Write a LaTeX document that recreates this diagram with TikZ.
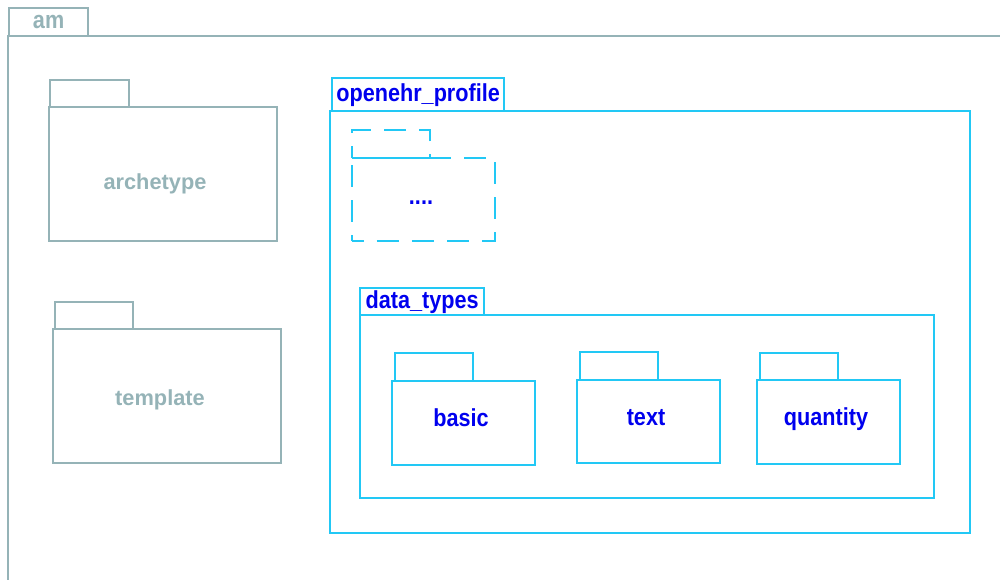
\documentclass[tikz,border=0pt]{standalone}
\usepackage{fontspec}
\newfontfamily\pkgfont{Liberation Sans}[FakeStretch=0.88]
\newfontfamily\namefont{Liberation Sans}
\definecolor{amgray}{HTML}{95B3B7}
\definecolor{pkgcyan}{HTML}{22C8F5}
\definecolor{pkgtext}{HTML}{0000EE}

\tikzstyle{pkg} = [rectangle, anchor=north west, inner sep=0pt, line width=1.3pt, font=\pkgfont\bfseries\fontsize{14}{16}\selectfont]
\tikzstyle{pkggrey} = [pkg, draw=amgray, text=amgray]
\tikzstyle{pkgblue} = [pkg, draw=pkgcyan, text=pkgtext]
\tikzstyle{pkgdash} = [pkgblue, dash pattern=on 12.5pt off 7.5pt, dash phase=6pt]
\tikzstyle{greyname} = [anchor=base, inner sep=0pt, text=amgray, font=\namefont\bfseries\fontsize{12.4}{14}\selectfont]
\tikzstyle{bluename} = [anchor=base, inner sep=0pt, text=pkgtext, font=\pkgfont\bfseries\fontsize{14}{16}\selectfont]

\begin{document}
\begin{tikzpicture}[x=0.02cm, y=-0.02cm]
\clip (0,0) rectangle (1000,579);

%% Outer frame
\node (am) [pkggrey, minimum width=20.8cm, minimum height=12cm] at (7,35) {};
\node (tab_am) [pkggrey, minimum width=1.58cm, minimum height=0.56cm] at (8,7) {am};

%% Grey packages
\node (tab_arc) [pkggrey, minimum width=1.58cm, minimum height=0.54cm] at (49,79) {};
\node (arc) [pkggrey, minimum width=4.56cm, minimum height=2.68cm] at (48,106) {};
\node (arc_name) [greyname] at (155,189) {archetype};
\node (tab_tpl) [pkggrey, minimum width=1.56cm, minimum height=0.54cm] at (54,301) {};
\node (tpl) [pkggrey, minimum width=4.56cm, minimum height=2.68cm] at (52,328) {};
\node (tpl_name) [greyname] at (160,405) {template};

%% openehr_profile
\node (tab_prf) [pkgblue, minimum width=3.44cm, minimum height=0.66cm] at (331,77) {openehr\_profile};
\node (prf) [pkgblue, minimum width=12.8cm, minimum height=8.44cm] at (329,110) {};

%% Unnamed package
\node (tab_dot) [pkgdash, minimum width=1.56cm, minimum height=0.56cm] at (351,129) {};
\node (dot) [pkgdash, minimum width=2.86cm, minimum height=1.66cm] at (351,157) {};
\node (dot_name) [bluename] at (421,204) {....};

%% data_types
\node (tab_dty) [pkgblue, minimum width=2.48cm, minimum height=0.54cm] at (359,287) {data\_types};
\node (dty) [pkgblue, minimum width=11.48cm, minimum height=3.66cm] at (359,314) {};

\node (tab_bas) [pkgblue, minimum width=1.56cm, minimum height=0.56cm] at (394,352) {};
\node (bas) [pkgblue, minimum width=2.86cm, minimum height=1.68cm] at (391,380) {};
\node (bas_name) [bluename] at (461,426) {basic};
\node (tab_txt) [pkgblue, minimum width=1.56cm, minimum height=0.56cm] at (579,351) {};
\node (txt) [pkgblue, minimum width=2.86cm, minimum height=1.66cm] at (576,379) {};
\node (txt_name) [bluename] at (646,425) {text};
\node (tab_qty) [pkgblue, minimum width=1.56cm, minimum height=0.54cm] at (759,352) {};
\node (qty) [pkgblue, minimum width=2.86cm, minimum height=1.68cm] at (756,379) {};
\node (qty_name) [bluename] at (826,425) {quantity};
\end{tikzpicture}
\end{document}
